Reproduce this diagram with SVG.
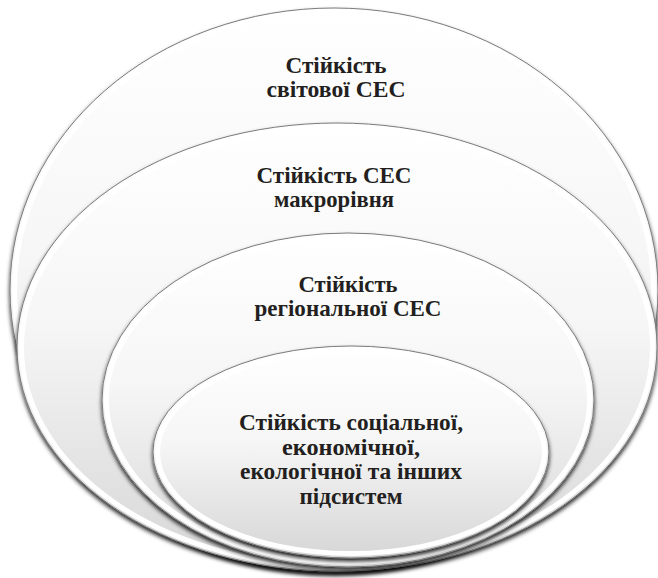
<svg xmlns="http://www.w3.org/2000/svg" width="658" height="578" viewBox="0 0 658 578">
<defs>
<linearGradient id="g" x1="0" y1="0" x2="0" y2="1">
<stop offset="0" stop-color="#ffffff"/>
<stop offset="0.45" stop-color="#f6f6f6"/>
<stop offset="1" stop-color="#d6d6d6"/>
</linearGradient>
<filter id="sh" x="-5%" y="-5%" width="110%" height="115%">
<feGaussianBlur in="SourceAlpha" stdDeviation="2"/>
<feOffset dy="3" result="b"/>
<feFlood flood-color="#000" flood-opacity="0.85"/>
<feComposite in2="b" operator="in"/>
<feMerge><feMergeNode/><feMergeNode in="SourceGraphic"/></feMerge>
</filter>
</defs>
<style>
.disc{fill:url(#g);stroke:#7a7a7a;stroke-width:1;filter:url(#sh)}
.rim{fill:none;stroke:#ffffff;stroke-width:5}
.t{font-family:"Liberation Serif","Times New Roman",serif;font-weight:bold;font-size:23px;fill:#231f20;text-anchor:middle}
</style>
<rect width="658" height="578" fill="#ffffff"/>
<g id="world">
<ellipse class="disc" cx="334" cy="290" rx="324" ry="282"/>
<ellipse class="rim" cx="334" cy="290" rx="319.5" ry="277.5"/>
<text class="t" x="336" y="73" textLength="101" lengthAdjust="spacingAndGlyphs">Стійкість</text>
<text class="t" x="336" y="97" textLength="139" lengthAdjust="spacingAndGlyphs">світової СЕС</text>
</g>
<g id="macro">
<ellipse class="disc" cx="337" cy="347" rx="320" ry="224"/>
<ellipse class="rim" cx="337" cy="347" rx="315.5" ry="219.5"/>
<text class="t" x="334" y="183" textLength="155" lengthAdjust="spacingAndGlyphs">Стійкість СЕС</text>
<text class="t" x="334" y="207" textLength="120" lengthAdjust="spacingAndGlyphs">макрорівня</text>
</g>
<g id="regional">
<ellipse class="disc" cx="348" cy="400" rx="246" ry="167"/>
<ellipse class="rim" cx="348" cy="400" rx="241.5" ry="162.5"/>
<text class="t" x="348" y="292" textLength="99" lengthAdjust="spacingAndGlyphs">Стійкість</text>
<text class="t" x="348" y="316" textLength="187" lengthAdjust="spacingAndGlyphs">регіональної СЕС</text>
</g>
<g id="subsystems">
<ellipse class="disc" cx="351" cy="452" rx="198" ry="106"/>
<ellipse class="rim" cx="351" cy="452" rx="193.5" ry="101.5"/>
<text class="t" x="351" y="430" textLength="224" lengthAdjust="spacingAndGlyphs">Стійкість соціальної,</text>
<text class="t" x="351" y="454.5" textLength="138" lengthAdjust="spacingAndGlyphs">економічної,</text>
<text class="t" x="351" y="479" textLength="222" lengthAdjust="spacingAndGlyphs">екологічної та інших</text>
<text class="t" x="351" y="503.5" textLength="103" lengthAdjust="spacingAndGlyphs">підсистем</text>
</g>
<g id="connectors"/>
</svg>
